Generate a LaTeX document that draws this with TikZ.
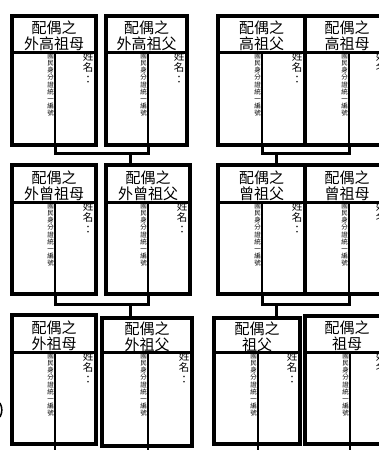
\documentclass[tikz,border=0pt]{standalone}
\usepackage{fontspec}
\newfontfamily\cjk{Noto Sans CJK TC}
\tikzset{
  outerline/.style={line width=3.5pt},
  hline/.style={line width=3pt},
  dline/.style={line width=2.5pt},
  conn/.style={line width=3pt},
  hdr/.style={font=\cjk\fontsize{15}{16}\selectfont, align=center, inner sep=0pt},
  idtxt/.style={font=\cjk\fontsize{6.5}{7.2}\selectfont, align=center, inner sep=0pt},
  nametxt/.style={font=\cjk\fontsize{10.5}{11.5}\selectfont, align=center, inner sep=0pt},
}
\newcommand{\famcard}[8]{%
  \node[inner sep=0pt,outer sep=0pt,minimum width={(#4-#2)*1pt},minimum height={(#5-#3)*1pt},anchor=north west] (#1) at (#2,#3) {};
  \coordinate (#1-d) at (#7,#5);
  \coordinate (#1-h) at (#7,#6);
  \node[hdr] (#1-t) at ({(#2+#4)/2},{(#3+#6)/2+2}) {配偶之\\#8};
  \node[idtxt, anchor=north] (#1-id) at ({#7-4.5},{#6+1}) {國\\民\\身\\分\\證\\統\\一\\編\\號};
  \node[nametxt, anchor=north] (#1-nm) at ({#4-8},{#6-1}) {姓\\名\\：};
  \draw[outerline] (#1.north west) rectangle (#1.south east);
  \draw[hline] (#1.west |- #1-h) -- (#1.east |- #1-h);
  \draw[dline] (#1-h) -- (#1-d);
}
\begin{document}
\begin{tikzpicture}[x=1pt,y=-1pt]
\useasboundingbox (0,0) rectangle (379,450);
\fill[white] (0,0) rectangle (379,450);
% row 1
\famcard{A}{12}{16}{96}{145}{52}{55}{外高祖母}
\famcard{B}{106}{16}{187}{145}{52}{148}{外高祖父}
\famcard{C}{218}{16}{305}{145}{52}{262}{高祖父}
\famcard{D}{305}{16}{389}{145}{52}{349}{高祖母}
% row 2
\famcard{E}{12}{165}{96}{294}{202}{55}{外曾祖母}
\famcard{F}{106}{165}{190}{294}{202}{148}{外曾祖父}
\famcard{G}{218}{165}{305}{294}{202}{262}{曾祖父}
\famcard{H}{305}{165}{389}{294}{202}{349}{曾祖母}
% row 3
\famcard{I}{12}{315}{96}{444}{352}{55}{外祖母}
\famcard{J}{102}{318}{192}{446}{352}{148}{外祖父}
\famcard{K}{214}{318}{300}{444}{352}{258}{祖父}
\famcard{L}{305}{316}{389}{444}{352}{350}{祖母}
% connectors
\coordinate (m1) at (130,153);
\coordinate (m2) at (276,153);
\coordinate (m3) at (130,304);
\coordinate (m4) at (276,304);
\draw[conn] (A-d) -- (A-d |- m1) -| (B-d);
\draw[conn] (C-d) -- (C-d |- m2) -| (D-d);
\draw[conn] (E-d) -- (E-d |- m3) -| (F-d);
\draw[conn] (G-d) -- (G-d |- m4) -| (H-d);
\draw[conn] (m1) -- (m1 |- F.north);
\draw[conn] (m2) -- (m2 |- G.north);
\draw[conn] (m3) -- (m3 |- J.north);
\draw[conn] (m4) -- (m4 |- K.north);
\coordinate (eI) at (55,455);
\coordinate (eJ) at (148,455);
\coordinate (eK) at (258,455);
\coordinate (eL) at (350,455);
\draw[dline] (I-d) -- (eI);
\draw[dline] (J-d) -- (eJ);
\draw[dline] (K-d) -- (eK);
\draw[dline] (L-d) -- (eL);
% small mark at left edge
\draw[line width=1.5pt] (0,403) .. controls (2.5,408) and (2.5,412) .. (0,417);
\end{tikzpicture}
\end{document}
